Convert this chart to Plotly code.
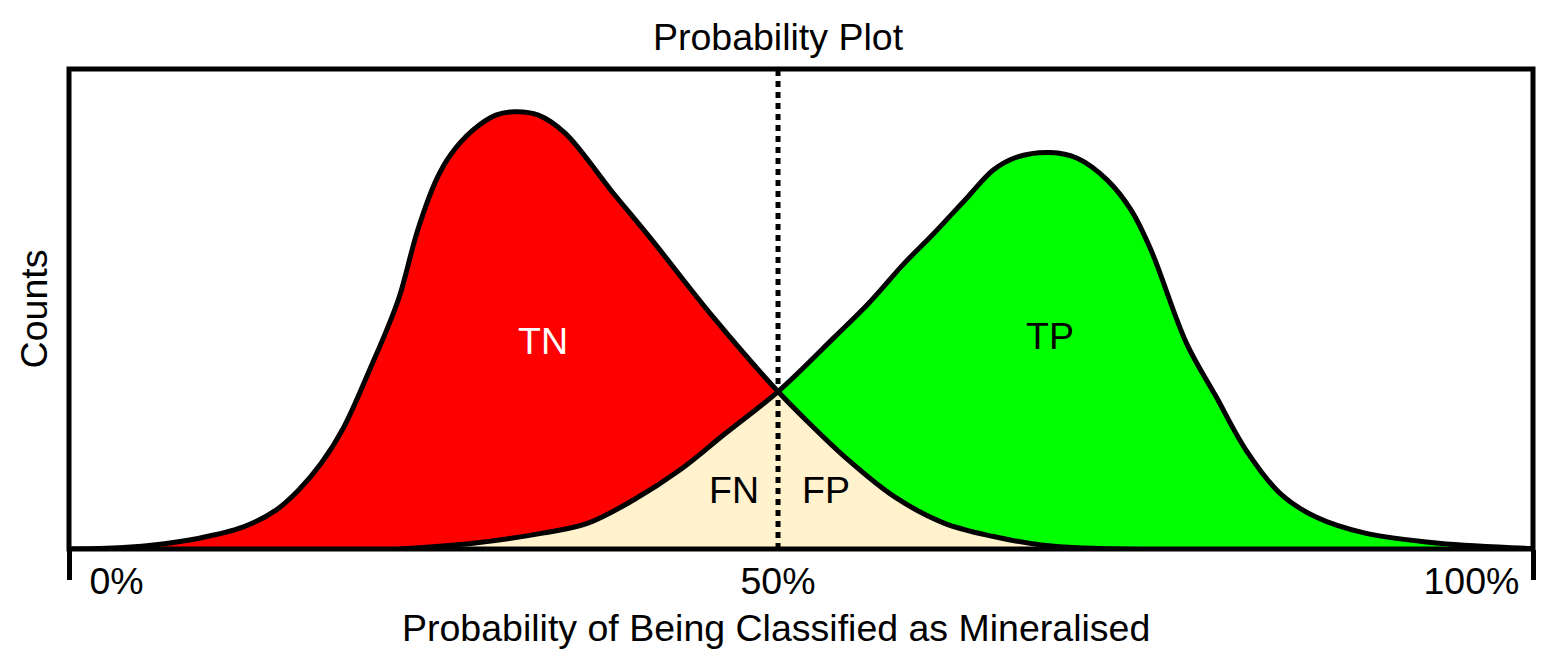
import plotly.graph_objects as go

# probability (%) and relative counts
neg_x = [0.0, 2.6, 5.8, 9.1, 12.3, 14.6, 16.2, 17.8, 19.4, 21.4, 22.4, 23.3, 24.6, 25.9, 26.9,
         28.5, 30.1, 31.4, 33.1, 35.0, 38.2, 41.1, 45.4, 50.0, 52.2, 54.7, 58.2, 61.7, 65.2,
         68.7, 73.9, 103.2]
neg_y = [0.0, 0.15, 0.8, 2.2, 4.6, 8.1, 12.3, 17.9, 25.5, 38.7, 45.6, 52.6, 66.5, 76.9, 82.1,
         87.3, 90.4, 91.1, 90.4, 86.6, 74.8, 64.4, 48.4, 32.8, 26.2, 19.2, 10.9, 5.4, 2.6,
         0.8, 0.0, 0.0]

pos_x = [23.3, 28.5, 33.4, 36.6, 39.8, 43.1, 46.3, 50.0, 54.0, 56.4, 58.9, 61.0, 63.4, 65.2,
         66.9, 69.2, 71.1, 73.2, 74.9, 76.3, 78.8, 80.9, 83.0, 85.4, 87.9, 91.4, 96.6, 103.2]
pos_y = [0.0, 1.2, 3.3, 5.4, 10.2, 16.5, 24.1, 32.8, 44.2, 51.2, 59.5, 65.8, 73.4, 79.0,
         81.7, 82.6, 81.4, 76.9, 70.6, 62.3, 42.9, 31.7, 20.6, 11.6, 6.7, 3.3, 1.2, 0.1]

threshold = 50.0
x_end = 103.24

tick_pos = [3.35, 50.0, 98.9]
tick_text = ['0%', '50%', '100%']

labels = ['TN', 'TP', 'FN', 'FP']
label_x = [33.4, 69.2, 46.9, 53.4]
label_y = [43.3, 44.4, 12.3, 12.3]
label_col = ['white', 'black', 'black', 'black']

FONT = 'Liberation Sans, Arial, sans-serif'
FS = 37.5

fig = go.Figure()

fig.add_trace(go.Scatter(x=neg_x, y=neg_y, fill='tozeroy', fillcolor='#ff0000',
                         mode='lines', line=dict(width=0, shape='spline')))
fig.add_trace(go.Scatter(x=pos_x, y=pos_y, fill='tozeroy', fillcolor='#00ff00',
                         mode='lines', line=dict(width=0, shape='spline')))

# overlap: under the positive curve left of the cut, under the negative curve right of it
fn_x = [x for x in pos_x if x <= threshold]
fn_y = [y for x, y in zip(pos_x, pos_y) if x <= threshold]
fp_x = [x for x in neg_x if x >= threshold]
fp_y = [y for x, y in zip(neg_x, neg_y) if x >= threshold]
for xs, ys in [(fn_x, fn_y), (fp_x, fp_y)]:
    fig.add_trace(go.Scatter(x=xs, y=ys, fill='tozeroy', fillcolor='#fff2cc',
                             mode='lines', line=dict(width=0, shape='spline')))

# outlines on top
for xs, ys in [(neg_x, neg_y), (pos_x, pos_y)]:
    fig.add_trace(go.Scatter(x=xs, y=ys, mode='lines',
                             line=dict(color='black', width=5, shape='spline')))

# invisible trace so the label axis is drawn
fig.add_trace(go.Scatter(x=[threshold], y=[0], xaxis='x2', mode='markers',
                         marker=dict(opacity=0), hoverinfo='skip'))

fig.add_shape(type='line', x0=threshold, x1=threshold, y0=0, y1=1, yref='y domain',
              line=dict(color='black', width=5, dash='6px,5px'))
# frame
fig.add_shape(type='rect', xref='x domain', yref='y domain', x0=0, x1=1, y0=0, y1=1,
              line=dict(color='black', width=5))

for t, x, y, c in zip(labels, label_x, label_y, label_col):
    fig.add_annotation(x=x, y=y, text=t, showarrow=False,
                       font=dict(family=FONT, size=FS, color=c))

# x title sits under the 50% mark rather than the middle of the frame
fig.add_annotation(text='Probability of Being Classified as Mineralised',
                   xref='paper', yref='paper', x=0.483, y=0, yshift=-79,
                   xanchor='center', yanchor='middle', showarrow=False,
                   font=dict(family=FONT, size=FS, color='black'))

fig.update_layout(
    width=1539, height=660,
    margin=dict(l=61, r=14, t=61, b=119),
    paper_bgcolor='white', plot_bgcolor='white',
    showlegend=False,
    font=dict(family=FONT, size=FS, color='black'),
    title=dict(text='Probability Plot', x=770 / 1539, xanchor='center',
               y=1 - 29 / 660, yanchor='middle', yref='container',
               font=dict(family=FONT, size=FS, color='black')),
    xaxis=dict(range=[0, x_end], showline=False, showgrid=False, zeroline=False,
               tickmode='array', tickvals=[0, x_end],
               ticks='outside', ticklen=30, tickwidth=5, tickcolor='black',
               showticklabels=False),
    xaxis2=dict(range=[0, x_end], overlaying='x', side='bottom', anchor='y',
                showline=False, showgrid=False, zeroline=False, tickmode='array',
                tickvals=tick_pos, ticktext=tick_text, ticks='', ticklabelstandoff=6,
                tickfont=dict(family=FONT, size=FS, color='black')),
    yaxis=dict(range=[0, 100], showline=False, showgrid=False, zeroline=False,
               showticklabels=False, ticks='',
               title=dict(text='Counts', font=dict(family=FONT, size=FS, color='black'),
                          standoff=8)),
)

fig.write_html('out.html')
